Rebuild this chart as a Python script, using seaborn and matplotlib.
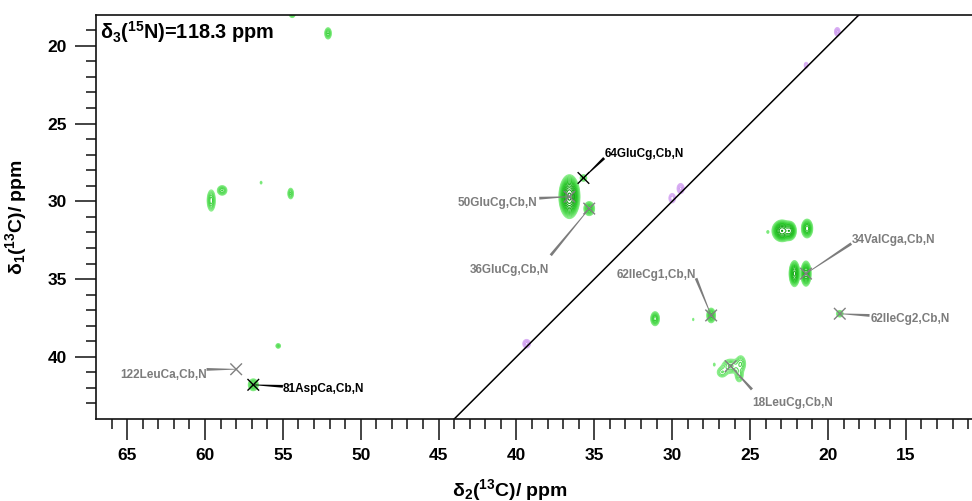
import numpy as np
import pandas as pd
import matplotlib
matplotlib.use("Agg")
import matplotlib.pyplot as plt
from matplotlib.ticker import FixedLocator
from matplotlib.patches import Polygon
import seaborn as sns

# ---- cross peaks of the 15N plane: delta2 (13C), delta1 (13C), line widths, heights ----
peak_c2 = [54.4, 52.1, 59.6, 58.9, 56.4, 54.5, 55.3, 56.9,
           36.6, 35.7, 35.33, 31.1,
           22.95, 22.45, 23.86, 21.34, 22.15, 21.41,
           28.65, 27.5, 19.24,
           26.25, 25.6, 25.7, 26.8, 27.3]
peak_c1 = [17.95, 19.2, 29.95, 29.3, 28.8, 29.5, 39.3, 41.8,
           29.7, 28.5, 30.47, 37.55,
           31.9, 31.9, 31.97, 31.75, 34.65, 34.65,
           37.6, 37.34, 37.23,
           40.6, 40.45, 41.2, 41.0, 40.5]
peak_w2 = [0.11, 0.11, 0.13, 0.16, 0.05, 0.10, 0.09, 0.16,
           0.23, 0.13, 0.16, 0.13,
           0.23, 0.16, 0.06, 0.15, 0.13, 0.13,
           0.04, 0.13, 0.13,
           0.30, 0.18, 0.15, 0.20, 0.05]
peak_w1 = [0.13, 0.19, 0.34, 0.16, 0.08, 0.19, 0.09, 0.19,
           0.48, 0.13, 0.21, 0.21,
           0.25, 0.23, 0.08, 0.25, 0.32, 0.32,
           0.08, 0.22, 0.13,
           0.25, 0.30, 0.25, 0.20, 0.09]
peak_amp = [4, 5, 6, 5, 1.5, 4, 3, 6,
            60, 3, 8, 8,
            40, 25, 1.5, 15, 25, 20,
            1.3, 8, 3,
            4, 3.5, 3, 2.5, 1.4]

# negative (diagonal) peaks
diag_c2 = [19.4, 21.4, 29.46, 30.0, 39.35, 18.05]
diag_c1 = [19.1, 21.25, 29.18, 29.8, 39.16, 17.95]
diag_w2 = [0.11, 0.09, 0.14, 0.14, 0.15, 0.08]
diag_w1 = [0.17, 0.14, 0.20, 0.20, 0.17, 0.10]
diag_amp = [3, 2, 3, 2.5, 3, 2]

# assignments
assign_names = ["64GluCg,Cb,N", "50GluCg,Cb,N", "36GluCg,Cb,N", "62IleCg1,Cb,N",
                "34ValCga,Cb,N", "62IleCg2,Cb,N", "18LeuCg,Cb,N", "122LeuCa,Cb,N",
                "81AspCa,Cb,N"]
assign_c2 = [35.7, 36.6, 35.33, 27.5, 21.41, 19.24, 26.25, 58.0, 56.9]
assign_c1 = [28.5, 29.7, 30.47, 37.34, 34.65, 37.23, 40.6, 40.8, 41.8]
assign_tone = ["black", "grey", "grey", "grey", "grey", "grey", "grey", "grey", "black"]

# label placement (text anchor, alignment, leader start) in ppm
label_xy = [(34.37, 26.97), (38.67, 30.13), (40.46, 34.4), (31.04, 34.76),
            (18.47, 32.46), (17.28, 37.6), (22.26, 42.96), (59.87, 41.14),
            (55.0, 42.06)]
label_ha = ["left", "right", "center", "center", "left", "left", "center", "right", "left"]
leader_xy = [(34.37, 27.22), (38.54, 29.8), (37.8, 33.47), (28.47, 34.95),
             (18.5, 32.72), (17.33, 37.34), (24.88, 42.1), (59.9, 40.81),
             (55.0, 41.9)]

x_major = [15, 20, 25, 30, 35, 40, 45, 50, 55, 60, 65]
y_major = [20, 25, 30, 35, 40]

sns.set_style("ticks")
plt.rcParams["font.family"] = ["Liberation Sans", "DejaVu Sans"]
plt.rcParams["font.weight"] = "bold"
plt.rcParams["text.color"] = "black"
plt.rcParams["axes.labelcolor"] = "black"
plt.rcParams["xtick.color"] = "black"
plt.rcParams["ytick.color"] = "black"
plt.rcParams["mathtext.fontset"] = "custom"
plt.rcParams["mathtext.rm"] = "Liberation Sans:bold"
plt.rcParams["mathtext.it"] = "Liberation Sans:bold"
plt.rcParams["mathtext.bf"] = "Liberation Sans:bold"

fig = plt.figure(figsize=(9.72, 5.01), dpi=100)
ax = fig.add_axes([96 / 972, 1 - 419 / 501, 876 / 972, 404.3 / 501])

# spectrum grid
c2_axis = np.arange(10.0, 68.0, 0.025)
c1_axis = np.arange(17.0, 45.0, 0.025)


def plane(xs, ys, wxs, wys, amps):
    z = np.zeros((len(c1_axis), len(c2_axis)))
    for x0, y0, sx, sy, a in zip(xs, ys, wxs, wys, amps):
        z += a * np.outer(np.exp(-0.5 * ((c1_axis - y0) / sy) ** 2),
                          np.exp(-0.5 * ((c2_axis - x0) / sx) ** 2))
    return z


levels = 0.8 * 1.35 ** np.arange(15)
green = sns.blend_palette(["#8EF08E", "#2ACB2A", "#0A960A"], n_colors=len(levels))
violet = sns.blend_palette(["#DDB4F6", "#A358DA"], n_colors=len(levels))

ax.contour(c2_axis, c1_axis, plane(peak_c2, peak_c1, peak_w2, peak_w1, peak_amp),
           levels=levels, colors=green, linewidths=0.75)
ax.contour(c2_axis, c1_axis, plane(diag_c2, diag_c1, diag_w2, diag_w1, diag_amp),
           levels=levels, colors=violet, linewidths=0.75)

# diagonal delta1 = delta2
diag_line = [10.0, 67.0]
sns.lineplot(x=diag_line, y=diag_line, color="black", linewidth=1.1, ax=ax,
             sort=False, estimator=None)

ax.set_xlim(67, 10.75)
ax.set_ylim(44, 18)

# assignment crosses
marks = pd.DataFrame({"c2": assign_c2, "c1": assign_c1, "tone": assign_tone})
sns.scatterplot(data=marks, x="c2", y="c1", hue="tone",
                palette={"grey": "#808080", "black": "#000000"},
                marker="x", s=70, linewidth=1.0, legend=False, ax=ax, zorder=5)

# tapered leaders and labels
fig.canvas.draw()
to_px = ax.transData
to_data = ax.transData.inverted()
for name, (tx, ty), ha, (lx, ly), mx, my, tone in zip(
        assign_names, label_xy, label_ha, leader_xy, assign_c2, assign_c1, assign_tone):
    col = "#000000" if tone == "black" else "#7c7c7c"
    p0 = np.array(to_px.transform((lx, ly)))
    p1 = np.array(to_px.transform((mx, my)))
    d = p1 - p0
    n = np.array([-d[1], d[0]]) / np.hypot(*d)
    pts_px = [p0 + n * 1.4, p1 + n * 0.3, p1 - n * 0.3, p0 - n * 1.4]
    pts = to_data.transform(pts_px)
    ax.add_patch(Polygon(pts, closed=True, facecolor=col, edgecolor="none", zorder=4))
    ax.text(tx, ty, name, ha=ha, va="center", fontsize=8.5, fontweight="bold",
            color=col, zorder=6)

ax.text(0.005, 0.99, r"δ$_\mathbf{3}$($^\mathbf{15}$N)=118.3 ppm", transform=ax.transAxes,
        ha="left", va="top", fontsize=14.3, fontweight="bold")

# axes styling
ax.xaxis.set_major_locator(FixedLocator(x_major))
ax.xaxis.set_minor_locator(FixedLocator(list(range(11, 67))))
ax.yaxis.set_major_locator(FixedLocator(y_major))
ax.yaxis.set_minor_locator(FixedLocator(list(range(19, 44))))
ax.tick_params(which="major", length=15, width=1.1, color="#111111",
               labelsize=12.5, pad=6, direction="out", labelcolor="black")
ax.tick_params(which="minor", length=7.5, width=1.1, color="#111111", direction="out")
ax.tick_params(axis="x", which="both", top=False)
ax.tick_params(axis="y", which="both", right=False)
for lab in ax.get_xticklabels() + ax.get_yticklabels():
    lab.set_fontweight("bold")

for side in ["left", "bottom", "top"]:
    ax.spines[side].set_visible(True)
    ax.spines[side].set_linewidth(1.2)
    ax.spines[side].set_color("#111111")
ax.spines["right"].set_visible(False)

ax.set_xlabel(r"δ$_\mathbf{2}$($^\mathbf{13}$C)/ ppm", fontsize=14, fontweight="bold")
ax.set_ylabel(r"δ$_\mathbf{1}$($^\mathbf{13}$C)/ ppm", fontsize=14, fontweight="bold")
ax.xaxis.set_label_coords(0.4726, -0.143)
ax.yaxis.set_label_coords(-0.077, 0.5)

fig.savefig("out.png", dpi=100)
